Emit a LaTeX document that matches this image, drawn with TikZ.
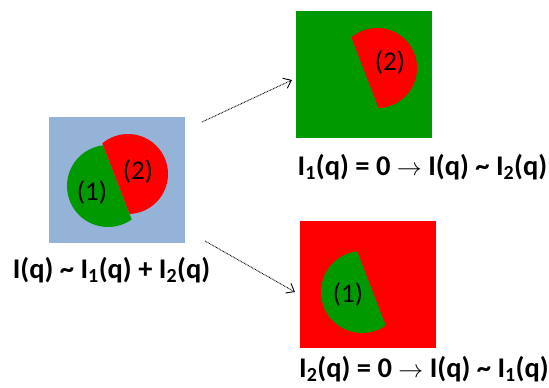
\documentclass[tikz,border=0pt]{standalone}
\usepackage{fontspec}
\setmainfont{Carlito}
\usetikzlibrary{arrows.meta,positioning}
\definecolor{bgblue}{RGB}{149,179,215}
\definecolor{dgreen}{RGB}{0,153,0}
\definecolor{pred}{RGB}{255,0,0}

\begin{document}
\begin{tikzpicture}[x=1pt,y=-1pt,
  panel/.style={minimum width=136pt,minimum height=126pt,inner sep=0pt,anchor=north west},
  phase/.style={font=\fontsize{27}{27}\selectfont},
  eqn/.style={font=\fontsize{28.5}{28.5}\selectfont\bfseries},
  flow/.style={line width=0.9pt,dash pattern=on 0.8pt off 0.8pt,-{Straight Barb[length=7pt,width=11pt]}}]
  \useasboundingbox (0,0) rectangle (549,388);

  % Mixture of both phases
  \node[panel,fill=bgblue] (mix) at (49,117) {};
  \begin{scope}[shift={(49,117)}]
    \begin{scope}
      \clip (27,-42) -- (108,168) -- (-20,168) -- (-20,-42) -- cycle;
      \fill[dgreen] (59,69) circle (41);
    \end{scope}
    \begin{scope}
      \clip (27,-42) -- (108,168) -- (160,168) -- (160,-42) -- cycle;
      \fill[pred] (79,57) circle (40);
    \end{scope}
    \node[phase] (mix1) at (43,75) {(1)};
    \node[phase] (mix2) at (89,54) {(2)};
  \end{scope}
  \node[eqn] (eqmix) at (111.5,270) {I(q) \textasciitilde{} I\textsubscript{1}(q) + I\textsubscript{2}(q)};

  % Phase 1 matched
  \node[panel,fill=dgreen,minimum height=127pt] (only2) at (296,11) {};
  \begin{scope}[shift={(298,11)}]
    \begin{scope}
      \clip (27,-42) -- (108,168) -- (160,168) -- (160,-42) -- cycle;
      \fill[pred] (79,57) circle (40);
    \end{scope}
    \node[phase] (rest2) at (92,51) {(2)};
  \end{scope}
  \node[eqn] (eqonly2) at (422.5,167) {I\textsubscript{1}(q) = 0 $\rightarrow$ I(q) \textasciitilde{} I\textsubscript{2}(q)};

  % Phase 2 matched
  \node[panel,fill=pred,minimum height=127pt] (only1) at (300,221) {};
  \begin{scope}[shift={(303,223)}]
    \begin{scope}
      \clip (27,-42) -- (108,168) -- (-20,168) -- (-20,-42) -- cycle;
      \fill[dgreen] (59,69) circle (41);
    \end{scope}
    \node[phase] (rest1) at (45,71) {(1)};
  \end{scope}
  \node[eqn] (eqonly1) at (424,369) {I\textsubscript{2}(q) = 0 $\rightarrow$ I(q) \textasciitilde{} I\textsubscript{1}(q)};

  % arrows
  \coordinate (a1s) at (202,122);
  \coordinate (a1e) at (292,80);
  \coordinate (a2s) at (205,241);
  \coordinate (a2e) at (295,292);
  \draw[flow] (a1s) -- (a1e);
  \draw[flow] (a2s) -- (a2e);
\end{tikzpicture}
\end{document}
